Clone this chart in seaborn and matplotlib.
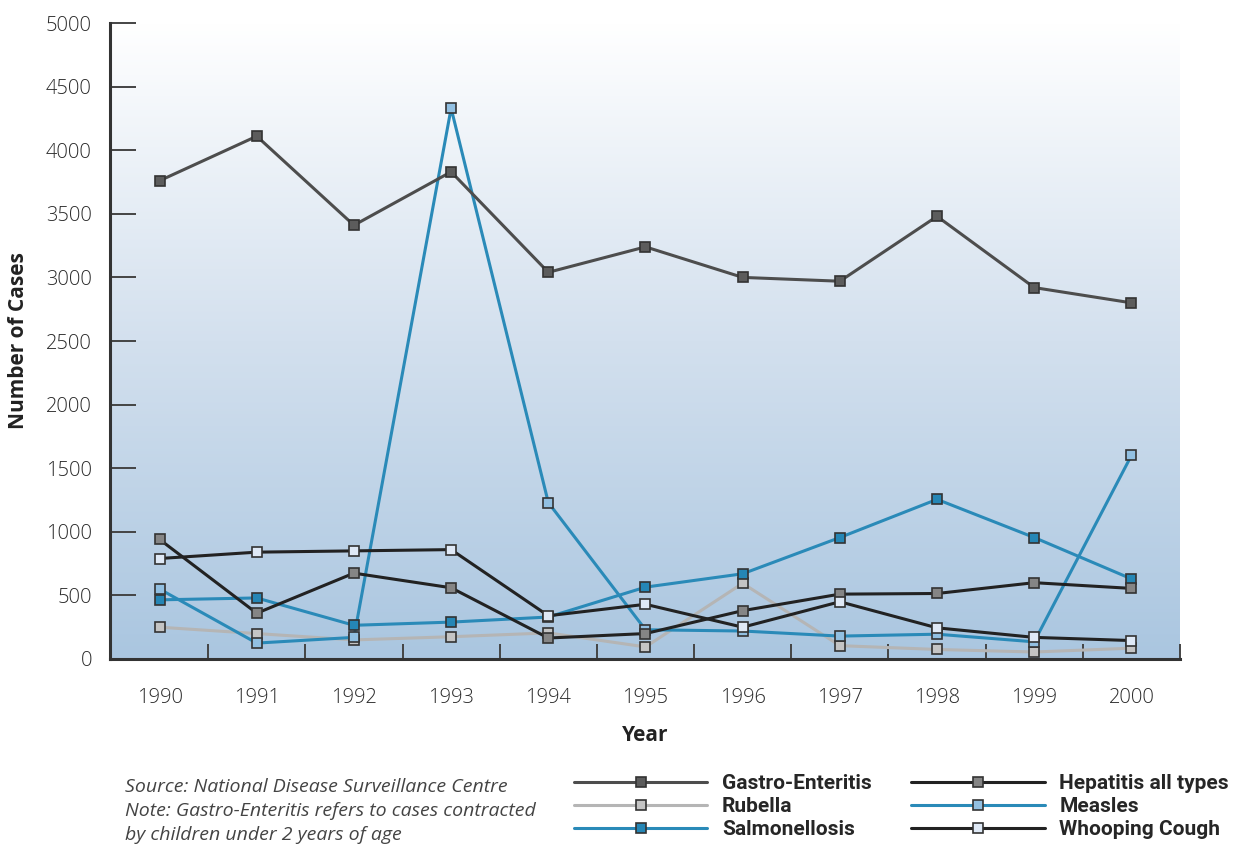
import numpy as np
import pandas as pd
import seaborn as sns
import matplotlib.pyplot as plt
from matplotlib.colors import LinearSegmentedColormap
from matplotlib.lines import Line2D

years = [1990, 1991, 1992, 1993, 1994, 1995, 1996, 1997, 1998, 1999, 2000]

gastro = [3760, 4110, 3410, 3830, 3040, 3240, 3000, 2970, 3480, 2920, 2800]
hepatitis = [940, 360, 675, 560, 165, 200, 380, 510, 515, 600, 555]
rubella = [250, 200, 150, 175, 205, 95, 595, 105, 75, 55, 85]
measles = [550, 125, 170, 4330, 1230, 230, 220, 180, 195, 135, 1600]
salmonellosis = [465, 480, 265, 290, 330, 565, 670, 955, 1255, 955, 630]
whooping = [790, 840, 850, 860, 340, 430, 250, 450, 245, 170, 145]

series_names = ["Gastro-Enteritis", "Hepatitis all types", "Rubella", "Measles",
                "Salmonellosis", "Whooping Cough"]
series_values = [gastro, hepatitis, rubella, measles, salmonellosis, whooping]
line_colors = ["#4d4d4d", "#222222", "#b5b5b5", "#2a8ab8", "#2a8ab8", "#222222"]
marker_colors = ["#5c5c5c", "#858585", "#c4c4c4", "#92c0e2", "#2586b5", "#dfe9f6"]

df = pd.DataFrame({
    "Year": np.tile(years, len(series_names)),
    "Cases": np.concatenate(series_values),
    "Disease": np.repeat(series_names, len(years)),
})

sns.set_style("white")
plt.rcParams["font.family"] = ["Open Sans", "DejaVu Sans"]

fig = plt.figure(figsize=(12.41, 8.47), dpi=100)
ax = fig.add_axes([110 / 1241, 1 - 659 / 847, 1070 / 1241, 636 / 847])

xmin, xmax = 1989.49, 2000.5
# background gradient, white at top to light blue at bottom
grad = np.linspace(0, 1, 256).reshape(-1, 1)
cmap = LinearSegmentedColormap.from_list("bg", ["#ffffff", "#d3e0ee", "#aac6e0"])
ax.imshow(grad, extent=[xmin, xmax, 0, 5000], aspect="auto", cmap=cmap,
          origin="upper", zorder=0)

draw_order = ["Rubella", "Measles", "Salmonellosis", "Hepatitis all types",
              "Whooping Cough", "Gastro-Enteritis"]
for name in draw_order:
    i = series_names.index(name)
    sub = df[df["Disease"] == name]
    sns.lineplot(data=sub, x="Year", y="Cases", ax=ax, color=line_colors[i],
                 linewidth=2.2, marker="s", markersize=7.5,
                 markerfacecolor=marker_colors[i], markeredgecolor="#333333",
                 markeredgewidth=1.2, zorder=3)

ax.set_xlim(xmin, xmax)
ax.set_ylim(0, 5000)
ax.set_yticks(range(0, 5001, 500))
ax.set_xticks(years)
ax.set_xticks(np.arange(1990.5, 2000.6, 1), minor=True)

for s in ["top", "right"]:
    ax.spines[s].set_visible(False)
for s in ["left", "bottom"]:
    ax.spines[s].set_color("#333333")
    ax.spines[s].set_linewidth(2.2)

ax.tick_params(axis="y", direction="in", length=19, width=1.4, color="#444444",
               pad=13, labelsize=14.5, labelcolor="#2a2a2a", left=True)
ax.tick_params(axis="x", which="major", length=0, pad=21, labelsize=14.5,
               labelcolor="#2a2a2a")
ax.tick_params(axis="x", which="minor", direction="in", length=11, width=1.4,
               color="#444444", bottom=True)
for lab in ax.get_xticklabels() + ax.get_yticklabels():
    lab.set_fontweight("light")
ax.grid(False)

ax.set_xlabel("Year", fontsize=15, fontweight="bold", color="#222222", labelpad=12)
ax.set_ylabel("Number of Cases", fontsize=15, fontweight="bold", color="#222222",
              labelpad=12)

note = ("Source: National Disease Surveillance Centre\n"
        "Note: Gastro-Enteritis refers to cases contracted\n"
        "by children under 2 years of age")
fig.text(125 / 1241, 1 - 778 / 847, note, fontsize=14, style="italic",
         color="#444444", va="top", ha="left", linespacing=1.42)

legend_order = ["Gastro-Enteritis", "Rubella", "Salmonellosis",
                "Hepatitis all types", "Measles", "Whooping Cough"]
handles = []
for name in legend_order:
    i = series_names.index(name)
    handles.append(Line2D([], [], color=line_colors[i], linewidth=2.2, marker="s",
                          markersize=7.5, markerfacecolor=marker_colors[i],
                          markeredgecolor="#333333", markeredgewidth=1.2))
fig.legend(handles, legend_order, loc="upper left",
           bbox_to_anchor=(574 / 1241, 1 - 774 / 847), ncol=2, frameon=False,
           handlelength=6.4, handletextpad=0.7, columnspacing=1.9,
           labelspacing=0.2, borderpad=0, borderaxespad=0,
           prop={"family": "Roboto", "weight": "bold", "size": 15})

fig.savefig("out.png", dpi=100)
